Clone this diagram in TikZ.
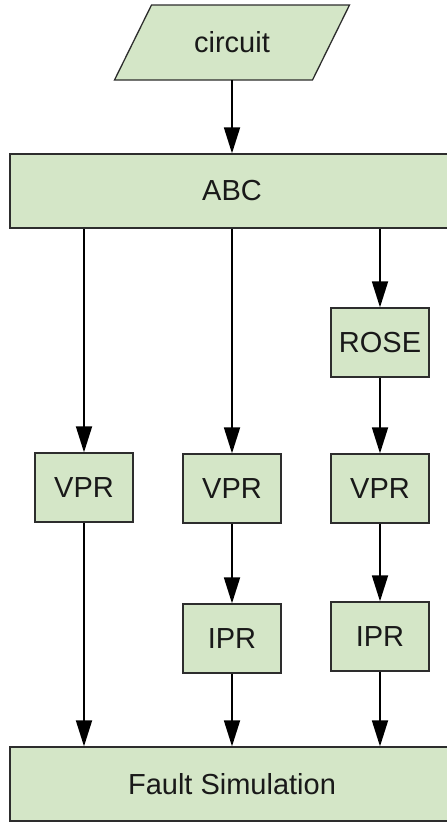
\documentclass[tikz,border=0pt]{standalone}
\usepackage{fontspec}
\setmainfont{Liberation Sans}
\usetikzlibrary{arrows.meta}
\definecolor{boxfill}{RGB}{212,230,199}
\definecolor{boxline}{RGB}{45,45,45}
\definecolor{txt}{RGB}{25,25,25}
\tikzset{
  stage/.style={draw=boxline, fill=boxfill, line width=1.3pt, inner sep=0pt,
    minimum width=98pt, minimum height=69pt, text=txt,
    font=\fontsize{29}{34}\selectfont},
  wide/.style={stage, minimum width=444pt, minimum height=74pt},
  flow/.style={draw=black, line width=1.8pt,
    -{Triangle[length=26pt,width=16pt]}}
}
\begin{document}
\begin{tikzpicture}[x=1pt,y=1pt]
  \useasboundingbox (0,0) rectangle (447,-823);
  \clip (0,0) rectangle (447,-823);

  % input: parallelogram around the circuit label
  \coordinate (circc) at (232,-42.5);
  \draw[boxline, fill=boxfill, line width=1.3pt]
    ([shift={(-80.5pt,37.5pt)}]circc) -- ([shift={(117.5pt,37.5pt)}]circc)
    -- ([shift={(80.5pt,-37.5pt)}]circc) -- ([shift={(-117.5pt,-37.5pt)}]circc)
    -- cycle;
  \node[inner sep=0pt, minimum width=198pt, minimum height=75pt, text=txt,
        font=\fontsize{29}{34}\selectfont] (circ) at (circc) {circuit};

  % stages
  \node[wide] (abc) at (232,-191) {ABC};
  \node[stage] (rose) at (380,-342.5) {ROSE};
  \node[stage] (vpra) at (84,-487.5) {VPR};
  \node[stage] (vprb) at (232,-488.5) {VPR};
  \node[stage] (vprc) at (380,-488.5) {VPR};
  \node[stage] (iprb) at (232,-638.5) {IPR};
  \node[stage] (iprc) at (380,-636.5) {IPR};
  \node[wide] (fault) at (232,-784) {Fault Simulation};

  % connectors
  \draw[flow] (circ.south) -- (abc.north);

  \draw[flow] (vpra.north |- abc.south) -- (vpra.north);
  \draw[flow] (vpra.south) -- (vpra.south |- fault.north);

  \draw[flow] (vprb.north |- abc.south) -- (vprb.north);
  \draw[flow] (vprb.south) -- (iprb.north);
  \draw[flow] (iprb.south) -- (iprb.south |- fault.north);

  \draw[flow] (rose.north |- abc.south) -- (rose.north);
  \draw[flow] (rose.south) -- (vprc.north);
  \draw[flow] (vprc.south) -- (iprc.north);
  \draw[flow] (iprc.south) -- (iprc.south |- fault.north);
\end{tikzpicture}
\end{document}
